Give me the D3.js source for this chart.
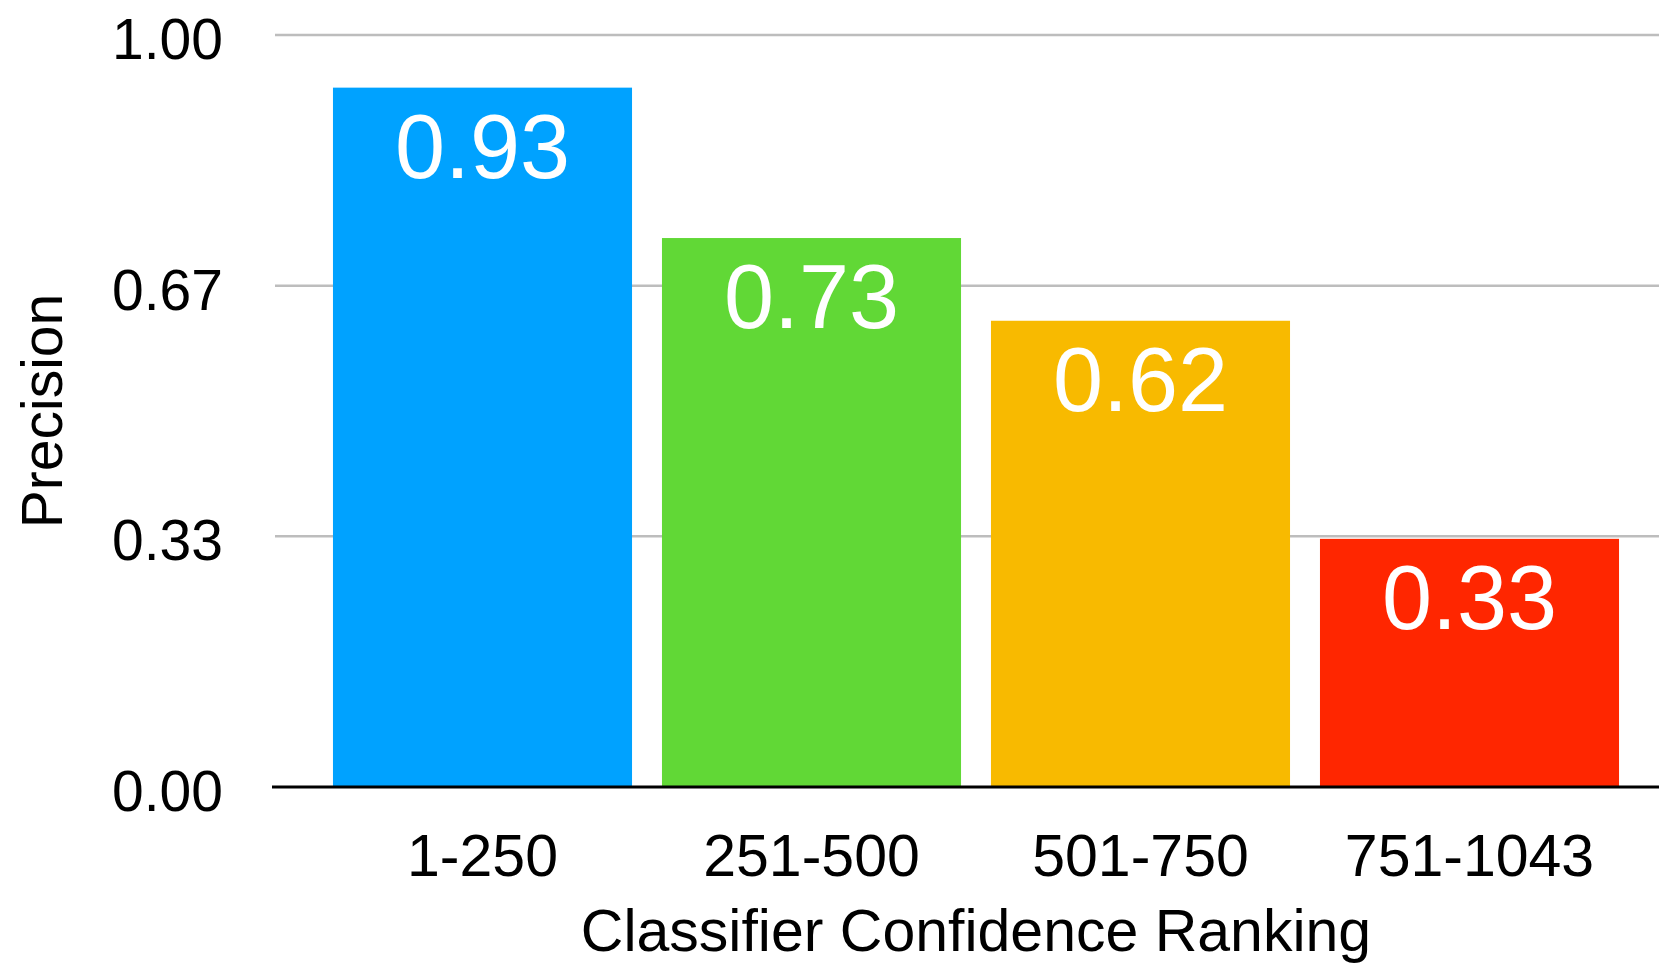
<!DOCTYPE html>
<html>
<head>
<meta charset="utf-8">
<script src="https://cdn.jsdelivr.net/npm/d3@7"></script>
<style>
  html, body { margin: 0; padding: 0; background: #fff; }
  svg { display: block; font-family: "Liberation Sans", Arial, Helvetica, sans-serif; }
</style>
</head>
<body>
<svg id="chart" width="1659" height="964"></svg>
<script>
// Precision per confidence-ranking bucket
const categories = ["1-250", "251-500", "501-750", "751-1043"];
const precision = [0.93, 0.73, 0.62, 0.33];
const barColors = ["#00A2FF", "#61D836", "#F8BA00", "#FF2600"];
const yTicks = [0, 1 / 3, 2 / 3, 1];
const xTitle = "Classifier Confidence Ranking";
const yTitle = "Precision";

const width = 1659, height = 964;
const svg = d3.select("#chart");

const plotTop = 35, plotBottom = 787;
const gridLeft = 275, axisLeft = 272;

const x = d3.scaleBand()
  .domain(categories)
  .range([318, 1634])
  .paddingInner(0.091)
  .paddingOuter(0.0455);

const y = d3.scaleLinear()
  .domain([0, 1])
  .range([plotBottom, plotTop]);

// Horizontal gridlines
svg.append("g")
  .selectAll("line")
  .data(yTicks.filter(d => d > 0))
  .join("line")
  .attr("x1", gridLeft)
  .attr("x2", width)
  .attr("y1", d => y(d))
  .attr("y2", d => y(d))
  .attr("stroke", "#BDBDBD")
  .attr("stroke-width", 2.5);

// Y tick labels
const fmt = d3.format(".2f");
svg.append("g")
  .selectAll("text")
  .data(yTicks)
  .join("text")
  .attr("x", 223)
  .attr("y", d => y(d) + 24)
  .attr("text-anchor", "end")
  .attr("font-size", 57)
  .attr("fill", "#000")
  .text(d => fmt(d));

// Bars
const bars = svg.append("g");
bars.selectAll("rect")
  .data(categories)
  .join("rect")
  .attr("x", d => x(d))
  .attr("width", x.bandwidth())
  .attr("y", (d, i) => y(precision[i]))
  .attr("height", (d, i) => y(0) - y(precision[i]))
  .attr("fill", (d, i) => barColors[i]);

// Value labels inside bars
svg.append("g")
  .selectAll("text")
  .data(categories)
  .join("text")
  .attr("x", d => x(d) + x.bandwidth() / 2)
  .attr("y", (d, i) => y(precision[i]) + 90)
  .attr("text-anchor", "middle")
  .attr("font-size", 90)
  .attr("fill", "#fff")
  .text((d, i) => fmt(precision[i]));

// Baseline
svg.append("line")
  .attr("x1", axisLeft)
  .attr("x2", width)
  .attr("y1", y(0))
  .attr("y2", y(0))
  .attr("stroke", "#000")
  .attr("stroke-width", 3);

// Category labels
const xAxis = svg.append("g")
  .attr("transform", `translate(0,${plotBottom})`)
  .call(d3.axisBottom(x).tickSize(0).tickPadding(0));
xAxis.select(".domain").remove();
xAxis.selectAll("text")
  .attr("font-size", 59)
  .attr("font-family", "Liberation Sans, Arial, Helvetica, sans-serif")
  .attr("fill", "#000")
  .attr("dy", null)
  .attr("y", 89);

// Axis titles
svg.append("text")
  .attr("x", (x.range()[0] + x.range()[1]) / 2)
  .attr("y", 951)
  .attr("text-anchor", "middle")
  .attr("font-size", 59)
  .attr("fill", "#000")
  .text(xTitle);

svg.append("text")
  .attr("transform", `translate(62,${411}) rotate(-90)`)
  .attr("text-anchor", "middle")
  .attr("font-size", 57)
  .attr("fill", "#000")
  .text(yTitle);
</script>
</body>
</html>
